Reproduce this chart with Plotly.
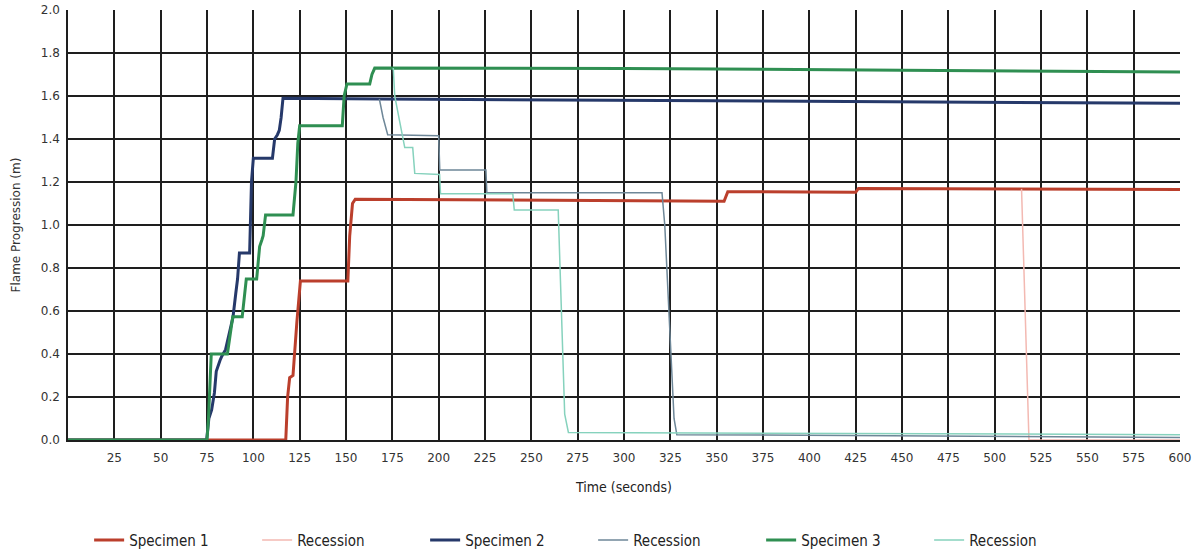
import plotly.graph_objects as go

# ---- data (time in seconds, flame progression in m) ----
spec1_t = [0, 75, 117.5, 118.5, 119.6, 121.4, 122.7, 123.5, 125.4, 151, 152, 153.5, 155, 250, 354, 356, 425, 426.5, 600]
spec1_v = [0, 0, 0, 0.20, 0.29, 0.30, 0.48, 0.55, 0.74, 0.74, 0.95, 1.10, 1.12, 1.115, 1.11, 1.155, 1.152, 1.17, 1.165]

rec1_t = [514.5, 518.5, 600]
rec1_v = [1.168, 0.0, 0.0]

spec2_t = [0, 74.8, 76, 77.5, 79, 80, 82, 83, 85, 87, 89, 90.5, 91.5, 92.5, 98, 99, 100, 110.3, 111.5, 113, 114, 115, 116, 170, 300, 450, 600]
spec2_v = [0, 0, 0.10, 0.14, 0.22, 0.32, 0.37, 0.39, 0.42, 0.50, 0.57, 0.68, 0.75, 0.87, 0.87, 1.20, 1.31, 1.31, 1.40, 1.42, 1.44, 1.50, 1.59, 1.586, 1.58, 1.575, 1.566]

rec2_t = [168, 170, 172.5, 200, 200.6, 225.5, 226, 320.5, 322, 325, 327, 328.5, 450, 600]
rec2_v = [1.586, 1.50, 1.42, 1.415, 1.256, 1.256, 1.15, 1.15, 1.0, 0.45, 0.10, 0.025, 0.02, 0.012]

spec3_t = [0, 75, 75.8, 76.5, 77.3, 86, 87.5, 88.9, 94, 95, 96.2, 101.8, 103.4, 104.6, 105.3, 106.6, 121.4, 123, 124, 125, 148, 149, 150.5, 162.8, 164, 165.5, 300, 450, 600]
spec3_v = [0, 0, 0.10, 0.27, 0.40, 0.40, 0.50, 0.573, 0.573, 0.65, 0.749, 0.749, 0.90, 0.93, 0.95, 1.047, 1.047, 1.20, 1.38, 1.462, 1.462, 1.60, 1.656, 1.656, 1.70, 1.73, 1.728, 1.72, 1.712]

rec3_t = [175.5, 176.3, 179, 181.7, 186, 187.1, 200.5, 201, 240, 240.8, 264.5, 266, 268, 270, 450, 600]
rec3_v = [1.73, 1.60, 1.48, 1.36, 1.36, 1.24, 1.235, 1.145, 1.145, 1.07, 1.07, 0.70, 0.12, 0.035, 0.03, 0.025]

x_ticks = list(range(25, 601, 25))
y_ticks = [0.0, 0.2, 0.4, 0.6, 0.8, 1.0, 1.2, 1.4, 1.6, 1.8, 2.0]
y_tick_text = [f"{v:.1f}" for v in y_ticks]

series = [
    ("Specimen 1", spec1_t, spec1_v, "#bb3f2c", 3),
    ("Recession", rec1_t, rec1_v, "#f3b9b2", 1.5),
    ("Specimen 2", spec2_t, spec2_v, "#26396a", 3),
    ("Recession", rec2_t, rec2_v, "#6e8798", 1.5),
    ("Specimen 3", spec3_t, spec3_v, "#2f8f52", 3),
    ("Recession", rec3_t, rec3_v, "#86d2bd", 1.5),
]

fig = go.Figure()
for name, t, v, color, w in series:
    fig.add_trace(go.Scatter(x=t, y=v, mode="lines", name=name,
                             line=dict(color=color, width=w)))

fig.update_layout(
    width=1193, height=556,
    margin=dict(l=68, r=13, t=10, b=116, autoexpand=False),
    paper_bgcolor="white", plot_bgcolor="white",
    font=dict(family="DejaVu Sans", color="#333333", size=12),
    showlegend=True,
    legend=dict(orientation="h", x=0.019, y=-0.233, xanchor="left", yanchor="middle",
                entrywidth=123, entrywidthmode="pixels", itemwidth=30,
                font=dict(family="DejaVu Sans Condensed, Lato", size=15, color="#222222"),
                bgcolor="rgba(0,0,0,0)"),
)
fig.update_xaxes(
    range=[0, 600], tickvals=x_ticks, ticktext=[str(v) for v in x_ticks],
    showgrid=True, gridcolor="#1e1e1e", gridwidth=1.5,
    showline=True, linecolor="#1e1e1e", linewidth=1.5,
    ticks="", zeroline=False, automargin=False, ticklabelstandoff=6,
    tickfont=dict(family="DejaVu Sans", size=12, color="#333333"),
    title=dict(text="Time (seconds)", font=dict(family="DejaVu Sans Condensed, Lato", size=14, color="#222222"), standoff=18),
)
fig.update_yaxes(
    range=[0, 2.0], tickvals=y_ticks, ticktext=y_tick_text,
    showgrid=True, gridcolor="#1e1e1e", gridwidth=1.5,
    showline=True, linecolor="#1e1e1e", linewidth=1.5,
    ticks="", zeroline=False, automargin=False, ticklabelstandoff=4,
    tickfont=dict(family="DejaVu Sans", size=12, color="#333333"),
    title=dict(text="Flame Progression (m)", font=dict(family="DejaVu Sans", size=12, color="#333333"), standoff=18),
)

fig.write_html("out.html", config={"displayModeBar": False},
               post_script="document.body.style.margin='0';")
